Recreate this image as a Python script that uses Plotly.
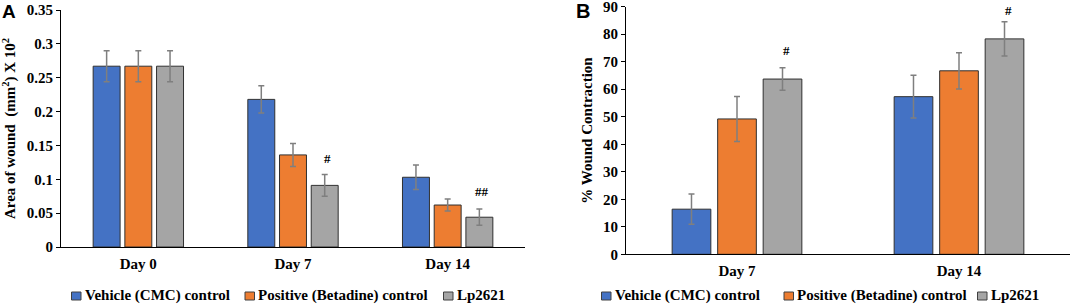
import plotly.graph_objects as go

series = ["Vehicle (CMC) control", "Positive (Betadine) control", "Lp2621"]
colors = ["#4472C4", "#ED7D31", "#A5A5A5"]

# Panel A: area of wound
days_a = ["Day 0", "Day 7", "Day 14"]
area_vehicle = [0.267, 0.218, 0.103]
area_positive = [0.267, 0.136, 0.062]
area_lp = [0.267, 0.091, 0.044]
area_vehicle_err = [0.023, 0.020, 0.018]
area_positive_err = [0.023, 0.017, 0.009]
area_lp_err = [0.023, 0.016, 0.012]
area_marks = [("Day 7", 0.130, "#"), ("Day 14", 0.082, "##")]
ticks_a = [0, 0.05, 0.1, 0.15, 0.2, 0.25, 0.3, 0.35]
ticktext_a = ["0", "0.05", "0.1", "0.15", "0.2", "0.25", "0.3", "0.35"]

# Panel B: % wound contraction
days_b = ["Day 7", "Day 14"]
contr_vehicle = [16.4, 57.3]
contr_positive = [49.2, 66.7]
contr_lp = [63.7, 78.3]
contr_vehicle_err = [5.5, 7.8]
contr_positive_err = [8.2, 6.6]
contr_lp_err = [4.1, 6.2]
contr_marks = [("Day 7", 74.0, "#"), ("Day 14", 88.8, "#")]
ticks_b = [0, 10, 20, 30, 40, 50, 60, 70, 80, 90]

SERIF = "Liberation Serif, Times New Roman, serif"
W, H = 1072, 307
fig = go.Figure()

vals_a = [area_vehicle, area_positive, area_lp]
errs_a = [area_vehicle_err, area_positive_err, area_lp_err]
vals_b = [contr_vehicle, contr_positive, contr_lp]
errs_b = [contr_vehicle_err, contr_positive_err, contr_lp_err]

for i in range(3):
    fig.add_trace(go.Bar(
        x=days_a, y=vals_a[i], name=series[i], xaxis="x", yaxis="y",
        marker=dict(color=colors[i], line=dict(color="#303030", width=1)),
        error_y=dict(type="data", array=errs_a[i], color="#7f7f7f", thickness=1.5, width=3),
        offsetgroup=str(i), showlegend=False,
    ))
for i in range(3):
    fig.add_trace(go.Bar(
        x=days_b, y=vals_b[i], name=series[i], xaxis="x2", yaxis="y2",
        marker=dict(color=colors[i], line=dict(color="#303030", width=1)),
        error_y=dict(type="data", array=errs_b[i], color="#7f7f7f", thickness=1.5, width=3),
        offsetgroup=str(i), showlegend=False,
    ))

tickfont = dict(family=SERIF, size=15, color="black")
titlefont = dict(family=SERIF, size=15, color="black")

annotations = []
for cat, yv, txt in area_marks:
    annotations.append(dict(x=cat, y=yv, xref="x", yref="y", text="<b>%s</b>" % txt,
                            showarrow=False, xshift=34, yanchor="middle",
                            font=dict(family=SERIF, size=13, color="black")))
for cat, yv, txt in contr_marks:
    annotations.append(dict(x=cat, y=yv, xref="x2", yref="y2", text="<b>%s</b>" % txt,
                            showarrow=False, xshift=49, yanchor="middle",
                            font=dict(family=SERIF, size=13, color="black")))
annotations.append(dict(x=0.0, y=1 - 11 / H, xref="paper", yref="paper", text="<b>A</b>",
                        showarrow=False, xanchor="left", yanchor="middle",
                        font=dict(family="Liberation Sans", size=19, color="black")))
annotations.append(dict(x=574 / W, y=1 - 11 / H, xref="paper", yref="paper", text="<b>B</b>",
                        showarrow=False, xanchor="left", yanchor="middle",
                        font=dict(family="Liberation Sans", size=20, color="black")))

# hand-drawn legends (square + label) under each panel
legend_square_x = [[71.5, 245, 443.5], [601.5, 784, 977.5]]
shapes = []
for row in legend_square_x:
    for i, sx in enumerate(row):
        shapes.append(dict(type="rect", xref="paper", yref="paper",
                           x0=sx / W, x1=(sx + 9.5) / W, y0=1 - 300 / H, y1=1 - 292 / H,
                           fillcolor=colors[i], line=dict(color="#404040", width=1)))
        annotations.append(dict(x=(sx + 11) / W, y=1 - 295 / H, xref="paper", yref="paper",
                                text="<b>%s</b>" % series[i], showarrow=False,
                                xanchor="left", yanchor="middle",
                                font=dict(family=SERIF, size=15, color="black")))

axis_common_y = dict(showline=True, linecolor="black", linewidth=1, showgrid=False, zeroline=False,
                     ticks="outside", ticklen=4, tickcolor="black", tickfont=tickfont, automargin=False,
                     ticklabeloverflow="allow")
axis_common_x = dict(showline=True, linecolor="black", linewidth=1, ticks="", automargin=False,
                     tickfont=dict(family=SERIF, size=15, color="black"), ticklabelstandoff=3,
                     tickprefix="<b>", ticksuffix="</b>", showgrid=False)

fig.update_layout(
    width=W, height=H,
    margin=dict(l=0, r=0, t=0, b=0, autoexpand=False),
    paper_bgcolor="white", plot_bgcolor="white",
    barmode="group", bargap=0.385, bargroupgap=0.15,
    font=dict(family=SERIF, color="black"),
    showlegend=False,
    xaxis=dict(domain=[61 / W, 525 / W], anchor="y", **axis_common_x),
    yaxis=dict(domain=[1 - 247 / H, 1 - 10 / H], anchor="x", range=[0, 0.35],
               tickvals=ticks_a, ticktext=["<b>%s</b>" % t for t in ticktext_a],
               title=dict(text="<b>Area of wound  (mm<sup>2</sup>) X 10<sup>2</sup></b>", font=titlefont, standoff=10),
               **axis_common_y),
    xaxis2=dict(domain=[626 / W, 1070 / W], anchor="y2", **axis_common_x),
    yaxis2=dict(domain=[1 - 254.3 / H, 1 - 6.7 / H], anchor="x2", range=[0, 90],
                tickvals=ticks_b, ticktext=["<b>%d</b>" % t for t in ticks_b],
                title=dict(text="<b>% Wound Contraction</b>", font=titlefont, standoff=6),
                **axis_common_y),
    shapes=shapes,
    annotations=annotations,
)

fig.write_html("out.html", config={"displayModeBar": False},
               post_script="document.body.style.margin='0px';")
